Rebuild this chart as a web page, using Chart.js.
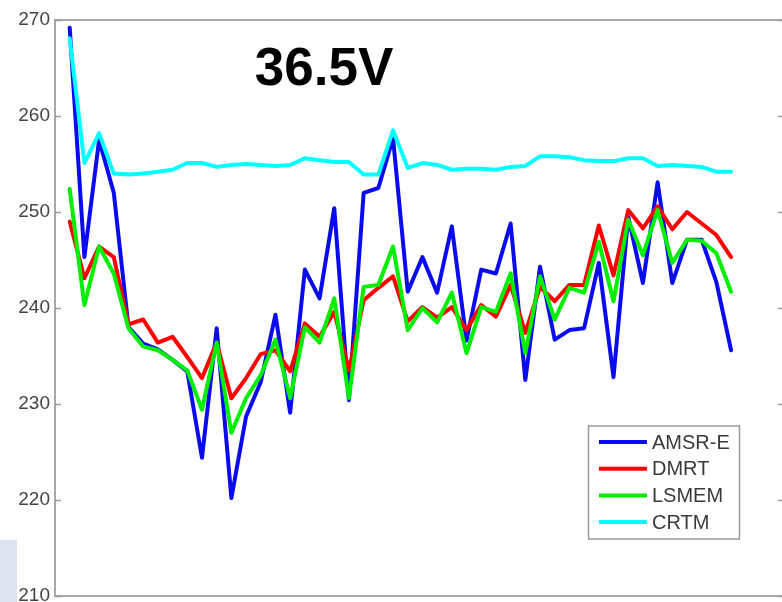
<!DOCTYPE html>
<html>
<head>
<meta charset="utf-8">
<script src="https://cdn.jsdelivr.net/npm/chart.js@4.4.1/dist/chart.umd.min.js"></script>
<style>
  html, body { margin: 0; padding: 0; background: #fff; overflow: hidden; }
  #wrap { position: relative; width: 782px; height: 602px; overflow: hidden; background: #fff; }
  #corner { position: absolute; left: 0; top: 540px; width: 17px; height: 62px; background: #dde3ef; }
  #c { position: absolute; left: 0; top: 0; }
</style>
</head>
<body>
<div id="wrap">
  <div id="corner"></div>
  <canvas id="c" width="790" height="630"></canvas>
</div>
<script>
// Sample index along the transect
const samples = [1, 2, 3, 4, 5, 6, 7, 8, 9, 10, 11, 12, 13, 14, 15, 16, 17, 18, 19, 20, 21, 22, 23,
                 24, 25, 26, 27, 28, 29, 30, 31, 32, 33, 34, 35, 36, 37, 38, 39, 40, 41, 42, 43, 44, 45, 46];

// Brightness temperatures (K) at 36.5 GHz, vertical polarisation
const amsrE = [269.2, 245.3, 257.5, 252.0, 238.0, 236.3, 235.7, 234.6, 233.4, 224.4, 237.9, 220.2,
               228.7, 232.3, 239.3, 229.1, 244.0, 241.0, 250.4, 230.4, 252.0, 252.5, 257.7, 241.7,
               245.3, 241.6, 248.5, 236.6, 244.0, 243.6, 248.8, 232.5, 244.3, 236.7, 237.7, 237.9,
               244.7, 232.8, 249.5, 242.6, 253.1, 242.6, 247.1, 247.1, 242.7, 235.6];
const dmrt  = [249.0, 243.1, 246.4, 245.3, 238.3, 238.8, 236.4, 237.0, 234.9, 232.7, 236.4, 230.6,
               232.7, 235.2, 235.6, 233.4, 238.4, 237.0, 239.6, 233.5, 240.8, 242.1, 243.3, 238.6,
               240.1, 239.0, 240.1, 237.7, 240.3, 239.1, 242.4, 237.4, 242.2, 240.7, 242.4, 242.4,
               248.6, 243.4, 250.2, 248.3, 250.6, 248.2, 250.0, 248.8, 247.6, 245.3];
const lsmem = [252.4, 240.3, 246.4, 243.6, 237.9, 236.0, 235.6, 234.6, 233.5, 229.4, 236.4, 227.0,
               230.6, 233.0, 236.7, 230.6, 238.0, 236.4, 241.0, 230.6, 242.2, 242.4, 246.4, 237.7,
               240.0, 238.5, 241.6, 235.3, 240.1, 239.6, 243.6, 235.3, 243.3, 238.8, 242.1, 241.6,
               246.9, 240.7, 249.2, 245.5, 250.2, 244.7, 247.1, 247.0, 245.7, 241.7];
const crtm  = [268.1, 255.1, 258.2, 254.0, 253.9, 254.0, 254.2, 254.4, 255.1, 255.1, 254.7, 254.9,
               255.0, 254.9, 254.8, 254.9, 255.6, 255.4, 255.2, 255.2, 253.9, 253.9, 258.5, 254.6,
               255.1, 254.9, 254.4, 254.5, 254.5, 254.4, 254.7, 254.8, 255.8, 255.8, 255.7, 255.4,
               255.3, 255.3, 255.6, 255.6, 254.8, 254.9, 254.8, 254.7, 254.2, 254.2];

const yTicks = [210, 220, 230, 240, 250, 260, 270];
const seriesNames = ['AMSR-E', 'DMRT', 'LSMEM', 'CRTM'];
const seriesColors = ['#0a0af0', '#ff0000', '#00ee00', '#00ffff'];
const seriesValues = [amsrE, dmrt, lsmem, crtm];
const panelTitle = '36.5V';

const toPoints = vals => samples.map((s, i) => ({ x: s, y: vals[i] }));

// Earlier entries are drawn underneath later ones (CRTM on top)
const datasets = seriesNames.map((name, i) => ({
  label: name,
  data: toPoints(seriesValues[i]),
  borderColor: seriesColors[i],
  backgroundColor: seriesColors[i],
  borderWidth: 4,
  pointRadius: 0,
  tension: 0,
  fill: false,
  borderJoinStyle: 'round',
  borderCapStyle: 'round',
  order: seriesNames.length - 1 - i
}));

const FONT = '"Liberation Sans", Arial, sans-serif';

// Box frame with inward ticks on both vertical sides
const framePlugin = {
  id: 'frame',
  beforeDatasetsDraw(chart) {
    const { ctx, chartArea: a, scales: { y } } = chart;
    ctx.save();
    ctx.strokeStyle = '#a8a8a8';
    ctx.lineWidth = 2;
    ctx.strokeRect(a.left, a.top, a.right - a.left, a.bottom - a.top);
    ctx.lineWidth = 1.5;
    ctx.strokeStyle = '#9a9a9a';
    y.ticks.forEach(t => {
      const py = Math.round(y.getPixelForValue(t.value)) + 0.5;
      ctx.beginPath();
      ctx.moveTo(a.left, py); ctx.lineTo(a.left + 6, py);
      ctx.moveTo(a.right, py); ctx.lineTo(a.right - 6, py);
      ctx.stroke();
    });
    ctx.restore();
  },
  afterDraw(chart) {
    const { ctx } = chart;
    ctx.save();
    // panel title inside the plot
    ctx.fillStyle = '#000';
    ctx.font = 'bold 53px ' + FONT;
    ctx.textAlign = 'center';
    ctx.textBaseline = 'alphabetic';
    ctx.fillText(panelTitle, 324, 85);

    // legend box
    const bx = 588.5, by = 426, bw = 151, bh = 113;
    ctx.fillStyle = '#ffffff';
    ctx.fillRect(bx, by, bw, bh);
    ctx.strokeStyle = '#9a9a9a';
    ctx.lineWidth = 1.5;
    ctx.strokeRect(bx, by, bw, bh);
    ctx.font = '20px ' + FONT;
    ctx.textAlign = 'left';
    ctx.textBaseline = 'middle';
    chart.data.datasets.forEach((ds, i) => {
      const ry = 442 + i * 26.7;
      ctx.strokeStyle = ds.borderColor;
      ctx.lineWidth = 4;
      ctx.beginPath();
      ctx.moveTo(599, ry); ctx.lineTo(647, ry);
      ctx.stroke();
      ctx.fillStyle = '#3a3a3a';
      ctx.fillText(ds.label, 652, ry + 1);
    });
    ctx.restore();
  }
};

new Chart(document.getElementById('c'), {
  type: 'line',
  data: { datasets },
  options: {
    responsive: false,
    animation: false,
    events: [],
    layout: { padding: { top: 20, bottom: 34, left: 0, right: 6 } },
    plugins: { legend: { display: false }, tooltip: { enabled: false }, title: { display: false } },
    scales: {
      x: {
        type: 'linear',
        min: 0,
        max: 49.6,
        display: false
      },
      y: {
        type: 'linear',
        min: 210,
        max: 270,
        afterFit(scale) { scale.width = 55; },
        afterBuildTicks(scale) { scale.ticks = yTicks.map(v => ({ value: v })); },
        grid: { display: false, drawTicks: false, tickLength: 0 },
        border: { display: false },
        ticks: {
          font: { family: FONT, size: 19 },
          color: '#444444',
          padding: 5
        }
      }
    }
  },
  plugins: [framePlugin]
});
</script>
</body>
</html>
